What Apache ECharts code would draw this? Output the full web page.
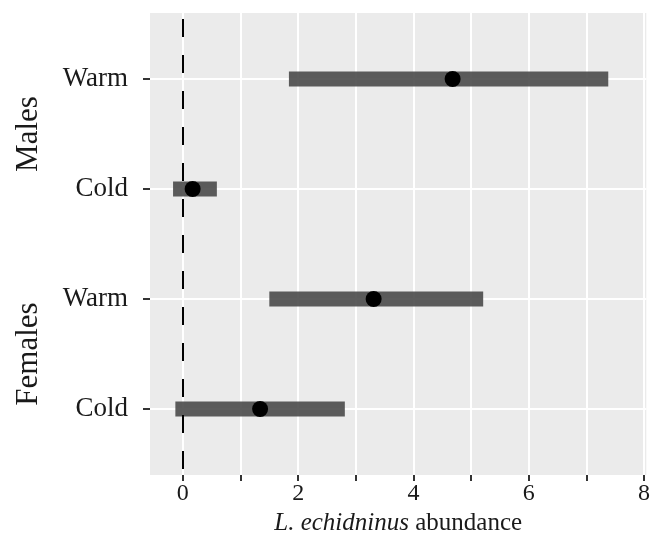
<!DOCTYPE html>
<html>
<head>
<meta charset="utf-8">
<script src="https://cdn.jsdelivr.net/npm/echarts@6/dist/echarts.min.js"></script>
<style>
  html, body { margin: 0; padding: 0; background: #fff; }
  #main { width: 653px; height: 543px; }
</style>
</head>
<body>
<div id="main"></div>
<script>
// rows from bottom to top
const rowLabels = ['Cold', 'Warm', 'Cold', 'Warm'];
const groups = ['Females', 'Males'];
const means = [1.34, 3.31, 0.17, 4.68];
const lower = [-0.13, 1.5, -0.17, 1.84];
const upper = [2.81, 5.21, 0.59, 7.38];
const xTicks = [0, 1, 2, 3, 4, 5, 6, 7, 8];
const xLabels = [0, 2, 4, 6, 8];

const serif = '"Liberation Serif", "DejaVu Serif", serif';
const chart = echarts.init(document.getElementById('main'));

const option = {
  animation: false,
  grid: {
    left: 150, right: 1, top: 13, bottom: 68,
    show: true, backgroundColor: '#ebebeb', borderWidth: 0
  },
  xAxis: {
    type: 'value',
    min: -0.57,
    max: 8.04,
    axisLine: { show: false, onZero: false },
    axisTick: { show: true, customValues: xTicks, length: 6, lineStyle: { color: '#333', width: 2 } },
    axisLabel: {
      customValues: xLabels, margin: 7,
      fontFamily: serif, fontSize: 24, color: '#1a1a1a'
    },
    splitLine: { show: true, lineStyle: { color: '#fff', width: 2 } },
    name: '{i|L. echidninus} abundance',
    nameLocation: 'middle',
    nameGap: 32,
    nameTextStyle: {
      fontFamily: serif, fontSize: 25, color: '#1a1a1a',
      rich: { i: { fontStyle: 'italic', fontFamily: serif, fontSize: 25, color: '#1a1a1a' } }
    }
  },
  yAxis: {
    type: 'value',
    min: -0.6,
    max: 3.6,
    axisLine: { show: false, onZero: false },
    axisTick: { show: true, customValues: [0, 1, 2, 3], length: 7, lineStyle: { color: '#333', width: 2 } },
    axisLabel: {
      customValues: [0, 1, 2, 3], margin: 22,
      fontFamily: serif, fontSize: 27, color: '#1a1a1a',
      formatter: v => rowLabels[Math.round(v)]
    },
    splitLine: { show: true, lineStyle: { color: '#fff', width: 2 } }
  },
  series: [
    {
      type: 'custom',
      data: rowLabels.map((_, i) => [lower[i], upper[i], i]),
      renderItem: (params, api) => {
        const a = api.coord([api.value(0), api.value(2)]);
        const b = api.coord([api.value(1), api.value(2)]);
        const h = 15;
        return {
          type: 'rect',
          shape: { x: a[0], y: a[1] - h / 2, width: b[0] - a[0], height: h },
          style: { fill: 'rgba(70,70,70,0.88)' }
        };
      },
      z: 2
    },
    {
      type: 'scatter',
      data: means.map((m, i) => [m, i]),
      symbolSize: 16,
      itemStyle: { color: '#000', opacity: 1 },
      z: 4,
      markLine: {
        silent: true,
        symbol: 'none',
        label: { show: false },
        lineStyle: { color: '#000', width: 2, type: [18, 18], dashOffset: 30 },
        data: [{ xAxis: 0 }]
      }
    }
  ]
};

chart.setOption(option);

// group titles, rotated, centred between their two rows
const gy = groups.map((g, k) => chart.convertToPixel({ yAxisIndex: 0 }, 2 * k + 0.5));
chart.setOption({
  graphic: groups.map((g, k) => ({
    type: 'text',
    x: 29,
    y: gy[k],
    rotation: Math.PI / 2,
    style: {
      text: g,
      fontFamily: serif,
      fontSize: 31,
      fill: '#1a1a1a',
      align: 'center',
      verticalAlign: 'middle'
    }
  }))
});
</script>
</body>
</html>
